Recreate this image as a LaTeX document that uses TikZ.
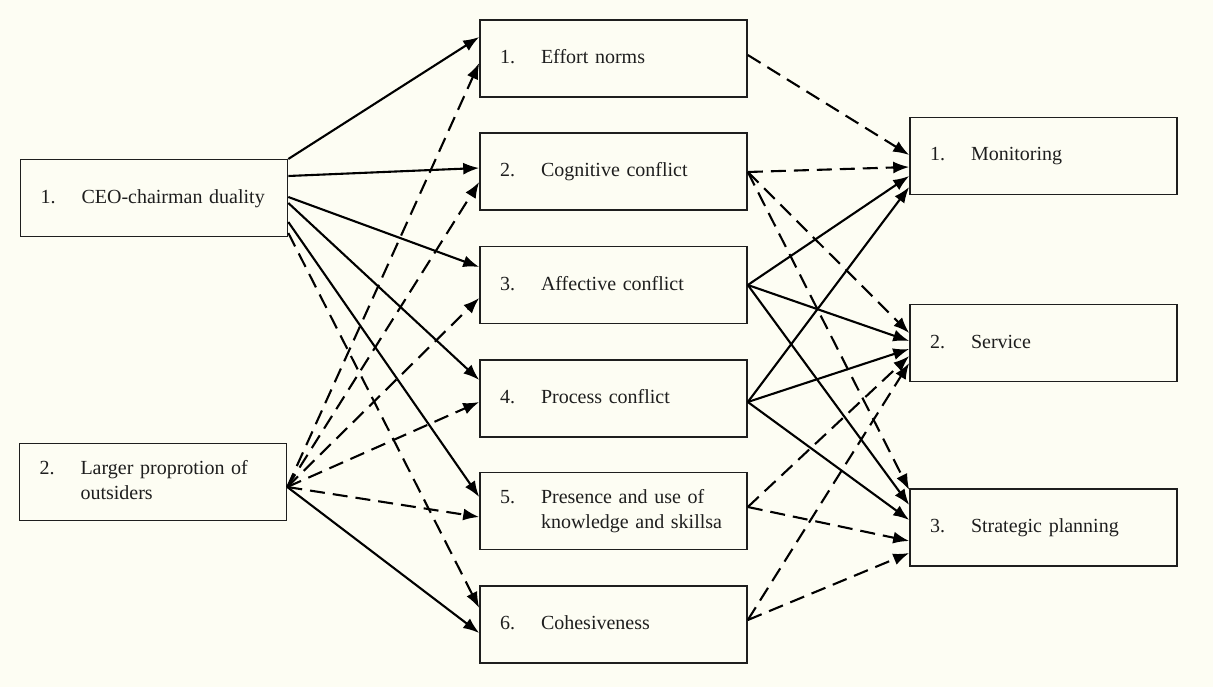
\documentclass[tikz,border=0pt]{standalone}
\usepackage{fontspec}
\setmainfont{Liberation Serif}
\usetikzlibrary{arrows.meta,calc}
\definecolor{bg}{RGB}{253,253,243}
\definecolor{ink}{RGB}{30,30,30}
\newcommand{\itm}[2]{\begin{tabular}{@{}p{41pt}@{}l@{}}#1 & #2\end{tabular}}
\begin{document}
\begin{tikzpicture}[x=1pt,y=-1pt,
  box/.style={draw=ink, line width=1.6pt, minimum width=267pt, minimum height=77pt,
    inner xsep=20pt, inner ysep=0pt, text width=227pt, align=left,
    font=\fontsize{20}{25}\selectfont, text=ink},
  sol/.style={draw=black, line width=2.1pt, -{Latex[length=16pt,width=12pt]}},
  das/.style={sol, dash pattern=on 15pt off 8pt}
]
\fill[bg] (0,0) rectangle (1213,687);
\useasboundingbox (0,0) rectangle (1213,687);

% left boxes
\node[box] (L1) at (154,198) {\itm{1.}{CEO-chairman duality}};
\node[box] (L2) at (153,482) {\begin{tabular}{@{}p{41pt}@{}l@{}}2. & Larger proprotion of\\ & outsiders\end{tabular}};

% middle boxes
\node[box] (M1) at (613.5,58.5) {\itm{1.}{Effort norms}};
\node[box] (M2) at (613.5,171.5) {\itm{2.}{Cognitive conflict}};
\node[box] (M3) at (613.5,285) {\itm{3.}{Affective conflict}};
\node[box] (M4) at (613.5,398.5) {\itm{4.}{Process conflict}};
\node[box] (M5) at (613.5,511) {\begin{tabular}{@{}p{41pt}@{}l@{}}5. & Presence and use of\\ & knowledge and skillsa\end{tabular}};
\node[box] (M6) at (613.5,624.5) {\itm{6.}{Cohesiveness}};

% right boxes
\node[box] (R1) at (1043.5,156) {\itm{1.}{Monitoring}};
\node[box] (R2) at (1043.5,343) {\itm{2.}{Service}};
\node[box] (R3) at (1043.5,527.5) {\itm{3.}{Strategic planning}};

% L1 -> middle
\draw[sol] ($(L1.east)+(0,-39)$) -- ($(M1.west)+(0,-21.5)$);
\draw[sol] ($(L1.east)+(0,-22)$) -- ($(M2.west)+(0,-3.5)$);
\draw[sol] ($(L1.east)+(0,-1)$) -- ($(M3.west)+(0,-18)$);
\draw[sol] ($(L1.east)+(0,5)$) -- ($(M4.west)+(0,-18.5)$);
\draw[sol] ($(L1.east)+(0,24)$) -- ($(M5.west)+(0,-14)$);
\draw[das] ($(L1.east)+(0,35)$) -- ($(M6.west)+(0,-16.5)$);

% L2 -> middle
\draw[das] ($(L2.east)+(0,5)$) -- ($(M1.west)+(0,4.5)$);
\draw[das] ($(L2.east)+(0,5)$) -- ($(M2.west)+(0,10.5)$);
\draw[das] ($(L2.east)+(0,5)$) -- ($(M3.west)+(0,13)$);
\draw[das] ($(L2.east)+(0,5)$) -- ($(M4.west)+(0,3.5)$);
\draw[das] ($(L2.east)+(0,5)$) -- ($(M5.west)+(0,6)$);
\draw[sol] ($(L2.east)+(0,5)$) -- ($(M6.west)+(0,8.5)$);

% middle -> right
\draw[das] ($(M1.east)+(0,-3.5)$) -- ($(R1.west)+(0,-1)$);
\draw[das] ($(M2.east)+(0,0.5)$) -- ($(R1.west)+(0,11)$);
\draw[das] ($(M2.east)+(0,0.5)$) -- ($(R2.west)+(0,-10)$);
\draw[das] ($(M2.east)+(0,0.5)$) -- ($(R3.west)+(0,-37.5)$);
\draw[sol] (M3.east) -- ($(R1.west)+(0,20)$);
\draw[sol] (M3.east) -- ($(R2.west)+(0,-2)$);
\draw[sol] (M3.east) -- ($(R3.west)+(0,-22.5)$);
\draw[sol] ($(M4.east)+(0,3.5)$) -- ($(R1.west)+(0,31)$);
\draw[sol] ($(M4.east)+(0,3.5)$) -- ($(R2.west)+(0,6)$);
\draw[sol] ($(M4.east)+(0,3.5)$) -- ($(R3.west)+(0,-7.5)$);
\draw[das] ($(M5.east)+(0,-4)$) -- ($(R2.west)+(0,13)$);
\draw[das] ($(M5.east)+(0,-4)$) -- ($(R3.west)+(0,13.5)$);
\draw[das] ($(M6.east)+(0,-4.5)$) -- ($(R2.west)+(0,20)$);
\draw[das] ($(M6.east)+(0,-4.5)$) -- ($(R3.west)+(0,25.5)$);
\end{tikzpicture}
\end{document}
